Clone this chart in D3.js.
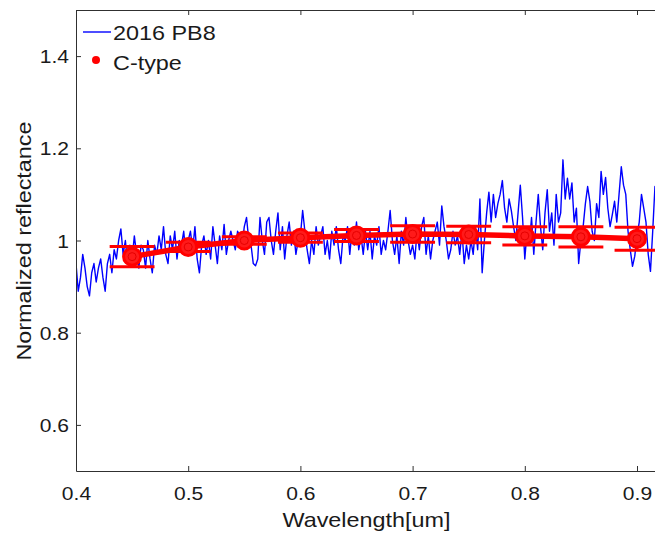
<!DOCTYPE html>
<html>
<head>
<meta charset="utf-8">
<script src="https://cdn.jsdelivr.net/npm/d3@7"></script>
<style>
  body { margin: 0; background: #fff; }
  svg { display: block; }
  text { font-family: "Liberation Sans", Arial, Helvetica, sans-serif; fill: #1a1a1a; }
</style>
</head>
<body>
<svg id="chart" width="655" height="533"></svg>
<script>
// Reflectance spectrum of 2016 PB8, sampled every 0.002 um from 0.400 um
const spectrumStart = 0.400;
const spectrumStep = 0.002;
const spectrumReflectance = [
  0.95, 0.89, 0.92, 0.97, 0.94, 0.90, 0.88, 0.93, 0.95, 0.91,
  0.94, 0.96, 0.92, 0.89, 0.95, 0.97, 0.93, 0.98, 0.96, 1.00,
  1.025, 0.97, 1.00, 0.95, 0.99, 0.96, 1.01, 0.97, 0.94, 0.99,
  0.98, 0.94, 1.00, 0.96, 0.93, 0.99, 0.97, 1.01, 0.98, 1.03,
  0.97, 0.95, 1.01, 0.98, 1.02, 0.96, 1.00, 0.99, 1.02, 0.97,
  1.00, 1.02, 0.98, 1.03, 0.96, 0.93, 0.99, 1.01, 0.97, 1.00,
  0.96, 1.03, 0.99, 0.95, 1.01, 0.98, 1.035, 0.97, 1.00, 1.02,
  1.00, 0.98, 1.02, 1.01, 0.99, 1.03, 1.05, 1.00, 0.99, 0.95,
  0.945, 0.96, 1.05, 1.00, 0.97, 1.04, 1.05, 1.00, 0.97, 1.02,
  1.06, 0.98, 1.03, 0.96, 1.01, 1.04, 0.99, 1.02, 0.97, 1.00,
  1.01, 1.065, 1.02, 0.98, 0.95, 1.00, 0.97, 1.03, 0.99, 1.01,
  1.03, 0.97, 1.00, 0.96, 1.02, 0.99, 1.03, 0.98, 0.95, 1.01,
  1.00, 1.03, 0.97, 1.02, 0.99, 1.04, 0.98, 1.01, 0.97, 1.02,
  0.98, 1.02, 0.96, 1.01, 0.99, 1.03, 0.97, 1.00, 0.98, 1.02,
  1.065, 1.00, 0.97, 1.01, 0.95, 1.02, 0.99, 1.05, 1.00, 0.97,
  0.99, 0.96, 1.02, 0.98, 1.03, 1.05, 0.97, 1.01, 0.96, 1.00,
  1.02, 1.04, 0.99, 1.075, 1.03, 1.00, 0.96, 0.98, 1.02, 0.99,
  1.01, 0.97, 1.02, 0.95, 0.99, 0.96, 1.00, 0.97, 1.03, 0.98,
  1.09, 0.93, 1.00, 1.06, 1.105, 1.04, 1.10, 1.05, 1.08, 1.10,
  1.13, 1.07, 1.04, 1.09, 1.065, 1.03, 1.00, 1.06, 1.12, 1.05,
  0.96, 1.02, 0.99, 1.05, 0.97, 1.04, 1.10, 1.03, 0.98, 1.06,
  1.11, 1.02, 1.06, 0.99, 1.10, 1.04, 1.06, 1.175, 1.09, 1.135,
  1.09, 1.125, 1.04, 1.07, 0.95, 1.00, 1.03, 1.08, 1.117, 1.085,
  1.02, 1.00, 1.08, 1.05, 1.15, 1.10, 1.137, 1.07, 1.03, 1.056,
  1.085, 1.04, 1.10, 1.16, 1.12, 1.10, 1.02, 0.98, 0.944, 0.966,
  1.01, 1.04, 1.10, 1.07, 1.04, 0.97, 0.933, 1.02, 1.117, 1.08,
  1.05
];

// Mean C-type taxonomic spectrum with its standard deviation
const cTypeWavelength = [0.45, 0.50, 0.55, 0.60, 0.65, 0.70, 0.75, 0.80, 0.85, 0.90];
const cTypeReflectance = [0.965, 0.986, 1.000, 1.006, 1.011, 1.014, 1.013, 1.010, 1.008, 1.004];
const cTypeError = [0.022, 0.010, 0.008, 0.010, 0.013, 0.018, 0.018, 0.020, 0.022, 0.025];

const seriesNames = ["2016 PB8", "C-type"];
const xTicks = [0.4, 0.5, 0.6, 0.7, 0.8, 0.9];
const yTicks = [0.6, 0.8, 1.0, 1.2, 1.4];
const xTitle = "Wavelength[um]";
const yTitle = "Normalized reflectance";

// ---- layout ----
const plotLeft = 76, plotTop = 10, plotBottom = 471;
const pxPerTenth = 112.2;
const plotRight = plotLeft + 6 * pxPerTenth;   // axes box runs past the window edge
const textStretch = 1.17;                      // glyphs are drawn slightly wide
const axisColor = "#303030";
const blue = "#0000ff", red = "#ff0000";

const svg = d3.select("#chart");
const x = d3.scaleLinear().domain([0.4, 1.0]).range([plotLeft, plotRight]);
const y = d3.scaleLinear().domain([0.5, 1.5]).range([plotBottom, plotTop]);

svg.append("defs").append("clipPath").attr("id", "plotClip")
  .append("rect").attr("x", plotLeft).attr("y", plotTop)
  .attr("width", plotRight - plotLeft).attr("height", plotBottom - plotTop);

const plot = svg.append("g").attr("clip-path", "url(#plotClip)");

// spectrum
const spectrum = spectrumReflectance.map((v, i) => [spectrumStart + i * spectrumStep, v]);
plot.append("path")
  .datum(spectrum)
  .attr("fill", "none")
  .attr("stroke", blue)
  .attr("stroke-width", 1.4)
  .attr("stroke-linejoin", "round")
  .attr("d", d3.line().x(d => x(d[0])).y(d => y(d[1])));

// C-type mean line, error bars and markers
const cType = cTypeWavelength.map((w, i) => ({ w, v: cTypeReflectance[i], e: cTypeError[i] }));
const capHalf = 0.02; // um

plot.append("path")
  .datum(cType)
  .attr("fill", "none")
  .attr("stroke", red)
  .attr("stroke-width", 5.5)
  .attr("d", d3.line().x(d => x(d.w)).y(d => y(d.v)));

const bars = plot.append("g").attr("stroke", red).attr("stroke-width", 3).attr("fill", "none");
bars.selectAll("line.v").data(cType).join("line").attr("class", "v")
  .attr("x1", d => x(d.w)).attr("x2", d => x(d.w))
  .attr("y1", d => y(d.v - d.e)).attr("y2", d => y(d.v + d.e));
bars.selectAll("line.top").data(cType).join("line").attr("class", "top")
  .attr("x1", d => x(d.w - capHalf)).attr("x2", d => x(d.w + capHalf))
  .attr("y1", d => y(d.v + d.e)).attr("y2", d => y(d.v + d.e));
bars.selectAll("line.bot").data(cType).join("line").attr("class", "bot")
  .attr("x1", d => x(d.w - capHalf)).attr("x2", d => x(d.w + capHalf))
  .attr("y1", d => y(d.v - d.e)).attr("y2", d => y(d.v - d.e));

plot.append("g").selectAll("circle").data(cType).join("circle")
  .attr("cx", d => x(d.w)).attr("cy", d => y(d.v)).attr("r", 8.5)
  .attr("fill", "#ff1a1a").attr("stroke", red).attr("stroke-width", 3);
plot.append("g").selectAll("circle").data(cType).join("circle")
  .attr("cx", d => x(d.w)).attr("cy", d => y(d.v)).attr("r", 4)
  .attr("fill", "none").attr("stroke", "#e60000").attr("stroke-width", 1);

// ---- axes (ticks point inward, box on) ----
const fmt = d => (d === 1 ? "1" : d3.format(".1f")(d));
const xAxis = svg.append("g").attr("transform", `translate(0,${plotBottom})`)
  .call(d3.axisBottom(x).tickValues(xTicks).tickSizeInner(-5).tickSizeOuter(0).tickPadding(0).tickFormat(fmt));
const xAxisTop = svg.append("g").attr("transform", `translate(0,${plotTop})`)
  .call(d3.axisTop(x).tickValues(xTicks).tickSizeInner(-5).tickSizeOuter(0).tickFormat(""));
const yAxis = svg.append("g").attr("transform", `translate(${plotLeft},0)`)
  .call(d3.axisLeft(y).tickValues(yTicks).tickSizeInner(-5).tickSizeOuter(0).tickPadding(0).tickFormat(fmt));

[xAxis, xAxisTop, yAxis].forEach(a => {
  a.select(".domain").attr("stroke", axisColor);
  a.selectAll(".tick line").attr("stroke", axisColor);
  a.selectAll("text").attr("font-size", 18).attr("fill", "#1a1a1a")
    .attr("font-family", '"Liberation Sans", Arial, sans-serif');
});
xAxis.selectAll(".tick text")
  .attr("y", 0).attr("dy", 0)
  .attr("transform", `translate(0,29) scale(${textStretch},1)`);
yAxis.selectAll(".tick text")
  .attr("x", 0).attr("dy", 0)
  .attr("transform", `translate(-7,6.5) scale(${textStretch},1)`);

// axis titles
svg.append("text")
  .attr("transform", `translate(${(plotLeft + 655) / 2 + 1},527) scale(${textStretch},1)`)
  .attr("text-anchor", "middle").attr("font-size", 20).text(xTitle);
svg.append("text")
  .attr("transform", `translate(31,241) rotate(-90) scale(${textStretch},1)`)
  .attr("text-anchor", "middle").attr("font-size", 20).text(yTitle);

// ---- legend ----
const legend = svg.append("g");
legend.append("line").attr("x1", 83).attr("x2", 111).attr("y1", 32).attr("y2", 32)
  .attr("stroke", blue).attr("stroke-width", 1.4);
legend.append("text").attr("transform", `translate(113,40) scale(${textStretch},1)`)
  .attr("font-size", 20).text(seriesNames[0]);
legend.append("circle").attr("cx", 96).attr("cy", 60).attr("r", 4).attr("fill", red);
legend.append("text").attr("transform", `translate(113,70) scale(${textStretch},1)`)
  .attr("font-size", 20).text(seriesNames[1]);
</script>
</body>
</html>
